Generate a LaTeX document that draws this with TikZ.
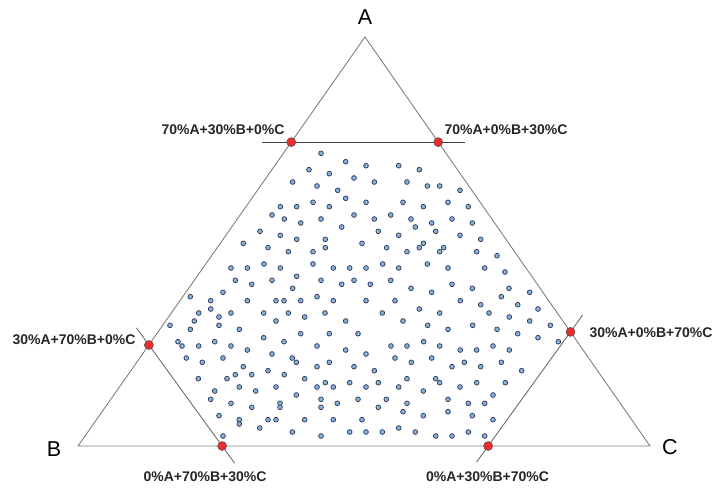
\documentclass[tikz,border=0pt]{standalone}
\usepackage{fontspec}
\setmainfont{Liberation Sans}
\usepackage{xcolor}
\usepackage{tikz}
\usetikzlibrary{calc}
\definecolor{edgegray}{HTML}{808080}
\definecolor{ptred}{HTML}{EE2B2B}
\definecolor{ptblue}{HTML}{86B0E0}
\definecolor{ptline}{HTML}{2E3A4F}

\begin{document}
\begin{tikzpicture}[x=1pt,y=-1pt,
  edge/.style={draw=edgegray,line width=0.9pt},
  cut/.style={draw=edgegray!85!black,line width=0.9pt},
  mix/.style={circle,draw=black!70,fill=ptred,line width=0.5pt,inner sep=0pt,minimum size=9pt},
  sample/.style={draw=ptline,fill=ptblue,line width=0.7pt},
  comp/.style={font=\bfseries\fontsize{14}{16}\selectfont,text=black!85},
  corner/.style={font=\fontsize{21.5}{24}\selectfont}]
\useasboundingbox (0,0) rectangle (714,488);
% corners of the simplex
\coordinate (A) at (365,37);
\coordinate (B) at (78,446);
\coordinate (C) at (650,446);
\draw[edge] (A) -- (B) -- (C) -- cycle;
% constraint points on the edges
\coordinate (ab1) at ($(B)!0.743!(A)$);
\coordinate (ac1) at ($(C)!0.743!(A)$);
\coordinate (ab2) at ($(B)!0.247!(A)$);
\coordinate (bc1) at ($(B)!0.252!(C)$);
\coordinate (ac2) at ($(C)!0.279!(A)$);
\coordinate (bc2) at ($(B)!0.717!(C)$);
\draw[cut,draw=black!75] ($(ab1)!-0.2!(ac1)$) -- ($(ac1)!-0.18!(ab1)$);
\draw[cut] ($(ab2)!-0.17!(bc1)$) -- ($(bc1)!-0.17!(ab2)$);
\draw[cut] ($(ac2)!-0.15!(bc2)$) -- ($(bc2)!-0.14!(ac2)$);
% design points
\foreach \px/\py in {321/153.3, 345.7/161.7, 366/165.7, 398.7/165.7, 309/169.7, 419.3/169.7,
  329.3/173.7, 354/178, 292.7/182, 374.3/182, 407/182, 317/186, 427.3/186, 439.7/186,
  337.7/190.3, 460/190.3, 345.7/198.3, 313/202.3, 366/202.3, 403/202.3, 448/202.3,
  280.3/206.7, 296.7/206.7, 329.3/206.7, 423.3/206.7, 468.3/206.7, 272/215, 354/215, 390.7/215,
  284.3/219, 321/219, 374.3/219, 411/219, 452/219, 300.7/223, 431.7/223, 472.3/223,
  341.7/227, 415.3/227, 260/231.3, 378.3/231.3, 435.7/231.3, 280.3/235.3, 398.7/235.3, 460/235.3,
  296.7/239.3, 325.3/239.3, 480.7/239.3, 243.3/243.3, 362/243.3, 423.3/243.3,
  268/247.7, 325.3/247.7, 386.7/247.7, 419.3/247.7, 443.7/247.7,
  288.3/251.7, 313/251.7, 407/251.7, 439.7/251.7, 476.7/251.7, 497/255.7,
  264/264, 313/264, 382.7/264, 427.3/264,
  231/268, 247.3/268, 280.3/268, 333.3/268, 349.7/268, 366/268, 398.7/268, 448/268, 484.7/268,
  505/272, 296.7/276.3, 235.3/280.3, 272/280.3, 321/280.3, 354/280.3, 390.7/280.3,
  251.7/284.3, 341.7/284.3, 370.3/284.3, 452/284.3, 292.7/288.3, 411/288.3, 472.3/288.3, 509/288.3,
  223/292.3, 431.7/292.3, 529.7/292.3, 190.3/296.7, 317/296.7, 501.3/296.7,
  210.7/300.7, 247.3/300.7, 276/300.7, 284/300.7, 300.7/300.7, 333.3/300.7, 366/300.7, 395/300.7, 460.3/300.7,
  480.7/304.7, 517.7/304.7, 210.7/309, 419.3/309, 538/309,
  198.7/313, 231/313, 263.7/313, 288.3/313, 325/313, 382.3/313, 439.7/313, 489/313,
  219/317, 304.7/317, 509.3/317, 194.3/321, 276/321, 345.7/321, 403/321, 529.7/321,
  170/325.3, 219/325.3, 427.7/325.3, 472.7/325.3, 550.3/325.3,
  190.3/329.3, 239.3/329.3, 448/329.3, 497/329.3, 300.7/333.7, 329.3/333.7, 358/333.7, 517.7/333.7,
  263.7/337.7, 538/337.7, 178/341.7, 214.7/341.7, 284/341.7, 423.7/341.7, 558.3/341.7,
  182/346, 198.7/346, 231/346, 317/346, 391/346, 407/346, 439.7/346, 493/346,
  247.3/350, 345.7/350, 460.3/350, 476.7/350, 509.3/350, 272/354, 366/354,
  186.3/358, 223/358, 292.3/358, 395/358, 431.7/358,
  202.3/362.3, 296.3/362.3, 329.3/362.3, 411.3/362.3, 464.3/362.3, 501.3/362.3,
  243.3/366.7, 317/366.7, 354/366.7, 452/366.7, 480.7/366.7, 268/370.7, 374.3/370.7, 521.7/370.7,
  235.3/374.7, 251.7/374.7, 284.3/374.7, 198.3/378.7, 227/378.7, 304.7/378.7, 407/378.7, 435.7/378.7,
  325.3/382.7, 349.7/382.7, 378.3/382.7, 439.7/382.7, 476.7/382.7, 505.3/382.7,
  239.3/387, 276/387, 317/387, 333.3/387, 366/387, 398.7/387, 460/387,
  214.7/391, 255.7/391, 423.3/391, 296.3/395, 493/395,
  210.7/399.3, 321/399.3, 358/399.3, 386.3/399.3, 448/399.3,
  231/403.3, 280/403.3, 337.3/403.3, 407/403.3, 468.3/403.3, 484.7/403.3,
  251.7/407.3, 280/407.3, 321/407.3, 378.3/407.3, 403/411.7, 448/411.7,
  219/415.7, 423.3/415.7, 472.3/415.7,
  239.3/419.7, 268/419.7, 276/419.7, 304.7/419.7, 333.3/419.7, 362/419.7, 493/419.7,
  239.3/424, 259.7/428, 398.7/428,
  292.3/432, 349.7/432, 366/432, 382.3/432, 415.3/432, 468.3/432,
  223/436, 321/436, 435.7/436, 452/436, 484.7/436}
  \path[sample] (\px,\py) circle[radius=2.4pt];
% mixture nodes
\node[mix] (m1) at (ab1) {};
\node[mix] (m2) at (ac1) {};
\node[mix] (m3) at (ab2) {};
\node[mix] (m4) at (bc1) {};
\node[mix] (m5) at (ac2) {};
\node[mix] (m6) at (bc2) {};
% labels
\node[corner] (labA) at (365,17) {A};
\node[corner] (labB) at (54,449) {B};
\node[corner] (labC) at (670,447) {C};
\node[comp] (lab1) at (223,130) {70\%A+30\%B+0\%C};
\node[comp] (lab2) at (506,130) {70\%A+0\%B+30\%C};
\node[comp] (lab3) at (74,340) {30\%A+70\%B+0\%C};
\node[comp] (lab4) at (651,333) {30\%A+0\%B+70\%C};
\node[comp] (lab5) at (205,477) {0\%A+70\%B+30\%C};
\node[comp] (lab6) at (487.5,477) {0\%A+30\%B+70\%C};
\end{tikzpicture}
\end{document}
